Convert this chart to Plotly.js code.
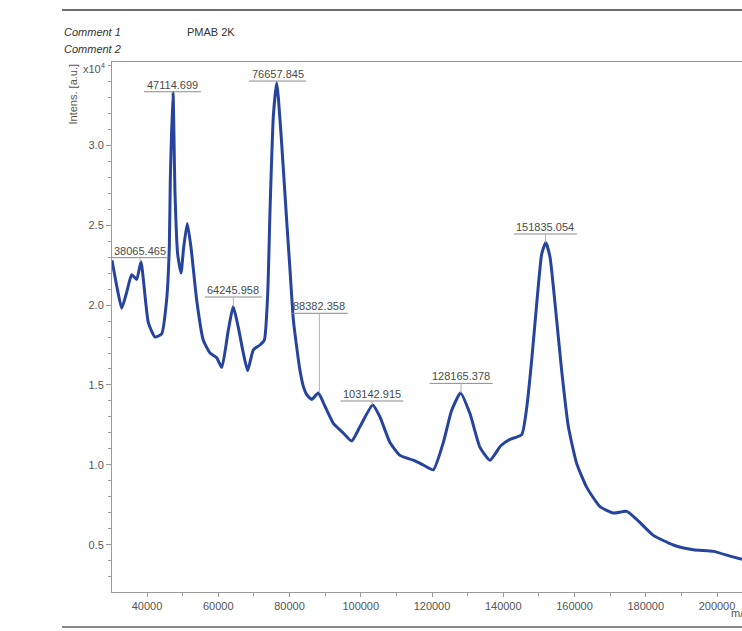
<!DOCTYPE html>
<html>
<head>
<meta charset="utf-8">
<script src="https://cdn.plot.ly/plotly-3.0.1.min.js"></script>
<style>html,body{margin:0;padding:0;background:#fff;}#chart{width:742px;height:631px;}</style>
</head>
<body>
<div id="chart"></div>
<script>
// Spectrum trace: m/z and intensity (units of 1e4 a.u.)
const mz = [30175, 31500, 32900, 34300, 35700, 37100, 38300, 40370, 42250, 44120,
  45500, 46260, 46540, 47300, 47860, 48600, 49540, 50300, 51300, 52350,
  53950, 55800, 57700, 59560, 61000, 62800, 64200, 65630, 67030, 68260,
  69850, 71700, 72930, 73880, 74530, 75460, 76400, 76860, 77800, 79200,
  80140, 81070, 82000, 82950, 83900, 84830, 86230, 88090, 89490, 92300,
  95100, 97460, 99790, 103350, 105400, 108200, 111000, 114750, 117560, 120370,
  123170, 125500, 128000, 130670, 133470, 136280, 139300, 141900, 145180, 146600,
  148000, 149400, 150800, 151930, 153120, 154530, 156400, 158270, 160600, 163430,
  167160, 170900, 174650, 177460, 182130, 187740, 193350, 199000, 203650, 207000];
const intensity = [2.28, 2.12, 1.98, 2.08, 2.19, 2.16, 2.27, 1.89, 1.80, 1.82,
  2.03, 2.36, 2.78, 3.33, 2.70, 2.32, 2.20, 2.36, 2.51, 2.36,
  2.03, 1.78, 1.70, 1.67, 1.61, 1.84, 1.99, 1.86, 1.70, 1.59,
  1.72, 1.75, 1.78, 2.07, 2.59, 3.18, 3.39, 3.30, 3.01, 2.53,
  2.22, 1.91, 1.74, 1.59, 1.49, 1.44, 1.41, 1.45, 1.39, 1.26,
  1.20, 1.15, 1.24, 1.375, 1.30, 1.14, 1.06, 1.03, 1.00, 0.97,
  1.14, 1.34, 1.45, 1.32, 1.11, 1.03, 1.12, 1.16, 1.19, 1.36,
  1.66, 2.01, 2.32, 2.39, 2.30, 2.01, 1.59, 1.24, 1.01, 0.86,
  0.74, 0.70, 0.71, 0.66, 0.56, 0.50, 0.47, 0.46, 0.43, 0.41];

// Peak labels
const peakLabels = ["38065.465", "47114.699", "64245.958", "76657.845", "88382.358", "103142.915", "128165.378", "151835.054"];
const peakMz = [38065.465, 47114.699, 64245.958, 76657.845, 88382.358, 103142.915, 128165.378, 151835.054];
const peakTop = [2.27, 3.33, 1.99, 3.39, 1.45, 1.375, 1.45, 2.39];
const labelLevel = [2.296, 3.333, 2.05, 3.40, 1.948, 1.40, 1.51, 2.444];

const yTickVals = [0.5, 1.0, 1.5, 2.0, 2.5, 3.0];
const xTickVals = [40000, 60000, 80000, 100000, 120000, 140000, 160000, 180000, 200000];

const FONT = "Liberation Sans, Arial, sans-serif";
const W = 742, H = 631, ML = 112, MR = 0, MT = 62, MB = 39;
const pw = W - ML - MR, ph = H - MT - MB;
const px2paperX = p => (p - ML) / pw;
const px2paperY = p => (H - MB - p) / ph;

const annotations = [];
const shapes = [];
peakLabels.forEach((lab, i) => {
  annotations.push({
    x: peakMz[i], y: labelLevel[i], xref: 'x', yref: 'y',
    text: lab, showarrow: false, xanchor: 'center', yanchor: 'bottom',
    yshift: 0, borderpad: 0,
    font: {family: FONT, size: 11, color: '#4a4a4a'}
  });
  const half = lab.length * 3.05 + 1;
  shapes.push({
    type: 'line', xref: 'x', yref: 'y', xsizemode: 'pixel', xanchor: peakMz[i],
    x0: -half, x1: half, y0: labelLevel[i], y1: labelLevel[i],
    line: {color: '#8a8a8a', width: 1}
  });
  shapes.push({
    type: 'line', xref: 'x', yref: 'y',
    x0: peakMz[i], x1: peakMz[i], y0: labelLevel[i], y1: peakTop[i],
    line: {color: '#b0b0b0', width: 1}
  });
});

// page frame lines and header texts
shapes.push({type: 'line', xref: 'paper', yref: 'paper', x0: px2paperX(62), x1: px2paperX(742),
  y0: px2paperY(10), y1: px2paperY(10), line: {color: '#6e6e6e', width: 2}});
shapes.push({type: 'line', xref: 'paper', yref: 'paper', x0: px2paperX(62), x1: px2paperX(742),
  y0: px2paperY(627), y1: px2paperY(627), line: {color: '#8a8a8a', width: 2}});

annotations.push({xref: 'paper', yref: 'paper', x: px2paperX(62), y: px2paperY(32), xanchor: 'left', yanchor: 'middle',
  text: '<i>Comment 1</i>', showarrow: false, font: {family: FONT, size: 11, color: '#333'}});
annotations.push({xref: 'paper', yref: 'paper', x: px2paperX(62), y: px2paperY(49), xanchor: 'left', yanchor: 'middle',
  text: '<i>Comment 2</i>', showarrow: false, font: {family: FONT, size: 11, color: '#333'}});
annotations.push({xref: 'paper', yref: 'paper', x: px2paperX(185), y: px2paperY(32), xanchor: 'left', yanchor: 'middle',
  text: 'PMAB 2K', showarrow: false, font: {family: FONT, size: 11, color: '#333'}});
annotations.push({xref: 'paper', yref: 'paper', x: px2paperX(72), y: 1.0, xanchor: 'center', yanchor: 'top',
  text: 'Intens. [a.u.]', textangle: -90, showarrow: false, font: {family: FONT, size: 11, color: '#555'}});
annotations.push({xref: 'paper', yref: 'paper', x: px2paperX(81), y: px2paperY(68), xanchor: 'left', yanchor: 'middle',
  text: 'x10<sup>4</sup>', showarrow: false, font: {family: FONT, size: 11, color: '#555'}});
annotations.push({xref: 'paper', yref: 'paper', x: px2paperX(729), y: px2paperY(613), xanchor: 'left', yanchor: 'middle',
  text: 'm/z', showarrow: false, font: {family: FONT, size: 11, color: '#555'}});

const trace = {
  x: mz, y: intensity, type: 'scatter', mode: 'lines',
  line: {color: 'rgb(38,68,158)', width: 3, shape: 'spline', smoothing: 0.5},
  hoverinfo: 'skip'
};

const layout = {
  width: W, height: H,
  margin: {l: ML, r: MR, t: MT, b: MB, pad: 0},
  paper_bgcolor: '#ffffff', plot_bgcolor: '#ffffff',
  showlegend: false,
  font: {family: FONT, size: 11, color: '#555'},
  xaxis: {
    range: [30175, 207018], showgrid: false, zeroline: false,
    showline: true, linecolor: '#9a9a9a', linewidth: 1, mirror: true,
    ticks: 'outside', ticklen: 4, tickcolor: '#9a9a9a', tickwidth: 1,
    tickvals: xTickVals, ticktext: xTickVals.map(String),
    tickfont: {family: FONT, size: 11, color: '#555'},
    minor: {dtick: 10000, tick0: 0, ticks: 'outside', ticklen: 3, tickcolor: '#9a9a9a', showgrid: false}
  },
  yaxis: {
    range: [0.206, 3.519], showgrid: false, zeroline: false,
    showline: true, linecolor: '#9a9a9a', linewidth: 1,
    ticks: 'outside', ticklen: 5, tickcolor: '#9a9a9a', tickwidth: 1,
    tickvals: yTickVals, ticktext: yTickVals.map(v => v.toFixed(1)),
    tickfont: {family: FONT, size: 11, color: '#555'},
    minor: {dtick: 0.1, tick0: 0, ticks: 'outside', ticklen: 3, tickcolor: '#9a9a9a', showgrid: false}
  },
  annotations: annotations,
  shapes: shapes
};

Plotly.newPlot('chart', [trace], layout, {staticPlot: true, displayModeBar: false});
</script>
</body>
</html>
